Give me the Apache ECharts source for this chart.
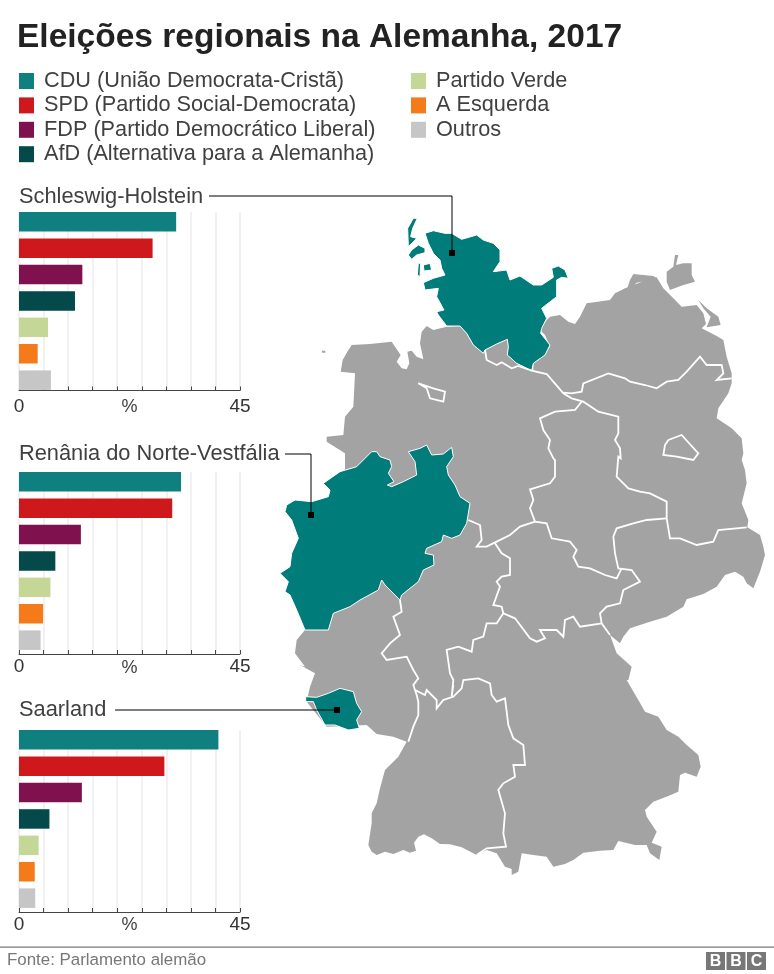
<!DOCTYPE html>
<html><head><meta charset="utf-8">
<style>html,body{margin:0;padding:0;background:#fff}#c{width:774px;height:974px}</style>
<script src="https://cdn.jsdelivr.net/npm/echarts@6/dist/echarts.min.js"></script>
</head><body><div id="c"></div>
<script>
const titleText = 'Eleições regionais na Alemanha, 2017';
const sourceText = 'Fonte: Parlamento alemão';
const parties = ['CDU (União Democrata-Cristã)','SPD (Partido Social-Democrata)','FDP (Partido Democrático Liberal)','AfD (Alternativa para a Alemanha)','Partido Verde','A Esquerda','Outros'];
const partyColors = ['#0f7f7f','#cf181b','#7f114f','#054a4a','#c5d797','#f47a1a','#c6c6c6'];
const states = ['Schleswig-Holstein','Renânia do Norte-Vestfália','Saarland'];
const valuesSH = [32.0,27.2,12.9,11.4,5.9,3.8,6.5];
const valuesNRW = [33.0,31.2,12.6,7.4,6.4,4.9,4.4];
const valuesSaar = [40.6,29.6,12.8,6.2,4.0,3.2,3.3];
const axisTicks = [0,5,10,15,20,25,30,35,40,45];

// Traced outlines: [crop, x,y, x,y, ...] in 3x units of three crops of the map
const germanyOutline = [
 [1, 212,515,218,480,232,455,245,435,300,432,365,425,375,440,392,465,380,485,395,505,410,508,418,490,412,455,425,452,440,470,460,478,450,430,455,395,470,378,490,390,530,380,570,378,590,400,610,435,640,460,645,450,680,432,712,415,715,440,712,465,740,490,780,510,790,512,790,490,815,470,840,440,825,405,810,390,825,365,840,350,870,345,895,365,915,372,930,350,950,310,1020,300,1035,280,1065,265,1130,240,1160,232,1180,265,1210,295,1235,320,1280,315,1300,340,1308,372,1295,385,1340,408,1360,420,1370,470,1385,520,1385,550,1375,580,1345,625,1340,655,1385,685,1415,715,1420,760],
 [2, 1415,60,1425,90,1430,130,1415,190,1435,240,1432,262,1470,285,1480,320,1485,345,1470,395,1450,445,1430,430,1420,410,1395,395,1365,405,1340,440,1300,462,1250,478,1240,500,1190,530,1140,545,1080,565,1060,590,1050,610,1020,585,1040,640,1085,680,1075,720],
 [3, 1070,60,1105,120,1125,155,1165,170,1190,210,1225,230,1250,255,1285,285,1292,320,1280,350,1245,338,1230,345,1225,395,1195,408,1150,425,1125,450,1130,470,1160,515,1145,548,1175,560,1168,600,1140,580,1130,555,1095,555,1045,543,1030,570,990,572,940,578,910,600,885,612,850,620,830,590,790,585,755,580,745,635,725,645,725,627,705,620,680,580,650,570,635,577,620,585,575,562,540,553,510,552,485,535,462,523,445,530,432,548,438,572,420,578,400,570,370,582,345,575,320,585,305,575,295,555,305,490,305,460,320,430,330,385,345,330,385,290,410,245,370,230,320,222,290,195,170,200,110,125,120,80,135,40,90,15],
 [2, 105,680,75,640,80,600,105,570,225,85,225,40,170,5],
 [1, 170,710,220,705,225,650,250,620,255,520]
];
const ruegen = [[1, 1190,215,1210,200,1215,165,1225,165,1218,195,1240,190,1265,190,1265,225,1275,245,1240,255,1200,270,1190,245]];
const darss = [[1, 1080,240,1090,222,1150,228,1165,238,1130,242,1100,248,1085,262,1072,265]];
const usedom = [[1, 1285,300,1310,325,1345,350,1352,375,1310,382,1322,350,1300,325]];
const borkum = [[1, 156,452,166,452,166,458,156,458]];

const schleswigOutline = [[1, 465,100,490,92,525,100,545,100,575,118,620,105,640,120,670,130,690,150,690,185,670,215,710,210,720,240,750,228,790,255,815,255,850,232,845,205,865,198,885,210,895,235,875,232,860,240,860,290,815,325,830,355,815,385,812,400,840,435,825,465,790,490,785,512,740,490,712,465,715,440,712,418,680,432,645,450,640,460,610,435,590,400,570,378,530,378,505,345,500,335,522,330,500,290,505,265,465,270,460,248,490,235,525,225,515,205,510,180,490,160,475,130]];
const sylt = [[1, 430,55,442,55,428,85,422,110,440,115,415,140,413,85]];
const foehr = [[1, 425,150,445,135,465,145,465,158,440,165,425,178,415,165]];
const pellworm = [[1, 460,195,480,190,485,210,462,213]];
const halligen = [[1, 445,190,452,190,450,230,442,225]];
const nrwOutline = [[2, 305,35,320,35,330,50,360,60,365,80,355,100,372,125,352,135,365,140,400,125,440,105,435,65,415,35,450,25,470,15,485,45,520,42,545,22,550,50,530,80,535,105,555,135,570,170,600,190,590,250,570,285,545,295,520,285,515,305,470,325,465,340,490,345,492,375,460,390,445,425,395,465,390,480,345,435,335,420,325,450,270,480,240,500,190,520,175,570,105,570,80,510,60,465,45,455,55,425,30,400,60,380,65,340,85,295,65,240,45,215,50,195,75,180,125,185,175,170,180,150,160,130,210,95,260,80]];
const saarOutline = [[3, 107,110,140,112,175,100,210,85,250,95,260,130,275,155,260,180,268,205,235,210,195,195,165,195,140,150,130,125,107,125]];

const stateBorders = [
 [[1, 645,450,650,480,680,495,695,487,725,505,745,498,785,512,830,522,850,545,880,580,905,595,940,605,985,635,1045,650,1045,700,1035,720,1050,745,1052,775],[2, 1045,50,1040,110,1075,145,1110,155,1140,160,1190,185,1190,235,1200,295,1230,295,1280,315,1330,305,1345,270,1430,262]],
 [[1, 880,578,905,580,935,575,940,550,1015,520,1065,535,1080,545,1125,555,1160,565,1190,545,1225,540,1250,515,1290,470,1310,495,1355,495,1360,520,1340,540,1385,535]],
 [[1, 935,605,915,630,855,635,810,655,820,690,840,720,835,745,850,775],[2, 855,60,855,110,840,130,780,148,790,180,780,205,795,245,830,250,845,295,900,305,920,330,910,350,925,380,960,385,1005,405,1040,415,1055,385]],
 [[2, 1190,235,1130,240,1090,250,1040,265,1030,290,1035,340,1045,385,1085,390,1110,425,1060,450,1050,490,1010,500,990,520,995,550,1020,585]],
 [[2, 795,245,750,260,720,285,680,305,650,320,620,320,635,300,630,255,595,240]],
 [[2, 675,310,695,340,720,355,720,405,695,410,680,425,690,440,670,495,695,500,700,520,735,535,780,595,800,605,825,595,810,570,860,570,880,590,885,540,910,530,930,560,995,550]],
 [[2, 700,520,680,550,650,550,640,590,610,600,605,635,565,620,530,630,540,700,550,720,545,770],[3, 550,75,545,105]],
 [[2, 390,480,395,515,370,530,390,585,360,610,335,640,350,660,410,650,430,690,445,715,430,735,440,765],[3, 445,125,445,165,430,200,415,245]],
 [[3, 435,90,465,105,470,90,500,120,500,145,520,120,550,110,575,85,580,60,625,55,660,70,665,105,680,125,705,115,715,195,730,235,760,255,765,315,730,315,735,350,700,370,685,390,705,460,700,520,708,560,650,565,620,585]],
 [[1, 445,550,470,565,480,595,520,605,525,575,490,565,445,550]],
 [[2, 1195,0,1235,-15,1262,15,1285,40,1270,60,1220,50,1180,45,1185,15,1195,0]]
];

const leaderLines = [
 [[209,196],[452,196],[452,253]],
 [[285,454],[311,454],[311,515]],
 [[115,710],[337,710]]
];
const leaderEnds = [[452,253],[311,515],[337,710]];

// crop origin in 3x units -> page pixels
const cropOrigin = {1:[810,600],2:[810,1320],3:[810,1980]};
function traced(segments){
  const pts=[];
  segments.forEach(seg=>{
    const o=cropOrigin[seg[0]];
    for(let i=1;i<seg.length;i+=2) pts.push([(seg[i]+o[0])/3,(seg[i+1]+o[1])/3]);
  });
  return pts;
}
function ring(segments){const p=traced(segments);p.push(p[0].slice());return p;}
function feature(name,list){
  return {type:'Feature',properties:{name},geometry:{type:'MultiPolygon',coordinates:list.map(s=>[ring(s)])}};
}
echarts.registerMap('de',{type:'FeatureCollection',features:[
  feature('Alemanha',[germanyOutline,ruegen,darss,usedom,borkum]),
  feature(states[0],[schleswigOutline,sylt,foehr,pellworm,halligen]),
  feature(states[1],[nrwOutline]),
  feature(states[2],[saarOutline])
]});

const font='"Liberation Sans",Arial,sans-serif';
const panels=[
 {values:valuesSH,top:212,bottom:390.5,label:186,lab:7.5},
 {values:valuesNRW,top:472,bottom:654,label:443,lab:4.7},
 {values:valuesSaar,top:730,bottom:912,label:699,lab:4}
];
const pitch=26.4, barH=19.5, gridL=19, gridW=221;
const grid=[],xAxis=[],yAxis=[],series=[];
panels.forEach((p,i)=>{
  // axis frame
  grid.push({left:gridL,width:gridW,top:p.top,height:p.bottom-p.top,containLabel:false});
  xAxis.push({type:'value',gridIndex:2*i,min:0,max:45,interval:5,
    name:'%',nameLocation:'middle',nameGap:p.lab,nameMoveOverlap:false,
    nameTextStyle:{fontFamily:font,fontSize:18,color:'#404040',verticalAlign:'top'},
    axisLine:{show:true,lineStyle:{color:'#444',width:1}},
    axisTick:{show:true,inside:true,length:4,lineStyle:{color:'#444',width:1}},
    axisLabel:{show:true,margin:p.lab-1,fontFamily:font,fontSize:19,color:'#333',verticalAlign:'top',
      showMinLabel:true,showMaxLabel:true,hideOverlap:false,
      formatter:v=>(v===axisTicks[0]||v===axisTicks[axisTicks.length-1])?String(v):''},
    splitLine:{show:true,lineStyle:{color:'#ececec',width:1.5}}});
  yAxis.push({type:'category',gridIndex:2*i,data:parties,inverse:true,show:false});
  // bar grid
  const top=p.top-(pitch-barH)/2;
  grid.push({left:gridL,width:gridW,top:top,height:pitch*7});
  xAxis.push({type:'value',gridIndex:2*i+1,min:0,max:45,show:false});
  yAxis.push({type:'category',gridIndex:2*i+1,data:parties,inverse:true,show:false});
  parties.forEach((party,k)=>{
    series.push({type:'bar',name:party,xAxisIndex:2*i+1,yAxisIndex:2*i+1,stack:'s'+i,barWidth:barH,
      itemStyle:{color:partyColors[k]},silent:true,z:5,
      data:parties.map((_,m)=>m===k?p.values[k]:null)});
  });
});
series.push({type:'lines',coordinateSystem:'geo',polyline:true,silent:true,z:3,
  lineStyle:{color:'#fff',width:1.8,opacity:1},
  data:stateBorders.map(b=>({coords:traced(b)}))});
series.push({type:'lines',coordinateSystem:'geo',polyline:true,silent:true,z:6,
  lineStyle:{color:'#000',width:1,opacity:1},
  data:leaderLines.map(c=>({coords:c}))});
series.push({type:'scatter',coordinateSystem:'geo',silent:true,z:7,symbol:'rect',symbolSize:6,
  itemStyle:{color:'#000',opacity:1},data:leaderEnds});

const stateStyle={fontFamily:font,fontSize:21.8,fontWeight:'normal',color:'#404040'};
const chart=echarts.init(document.getElementById('c'),null,{renderer:'canvas'});
const legendText={fontFamily:font,fontSize:21.7,color:'#404040',padding:[2,0,0,5]};
chart.setOption({
  animation:false,backgroundColor:'#fff',
  title:[
    {text:titleText,left:17,top:21,padding:0,textStyle:{fontFamily:font,fontSize:33.5,fontWeight:'bold',color:'#222'}},
    ...panels.map((p,i)=>({text:states[i],left:19,top:p.label,padding:0,textStyle:stateStyle})),
    {text:sourceText,left:7,top:952,padding:0,textStyle:{fontFamily:font,fontSize:16.9,fontWeight:'normal',color:'#777'}}
  ],
  legend:[
    {data:parties.slice(0,4),left:19,top:70,orient:'vertical',itemWidth:15,itemHeight:16,itemGap:2.4,padding:0,selectedMode:false,icon:'rect',textStyle:legendText},
    {data:parties.slice(4),left:411,top:70,orient:'vertical',itemWidth:15,itemHeight:16,itemGap:2.4,padding:0,selectedMode:false,icon:'rect',textStyle:legendText}
  ],
  geo:{map:'de',left:0,top:0,width:774,height:974,silent:true,roam:false,z:2,
    projection:{project:p=>p,unproject:p=>p},
    boundingCoords:[[0,0],[774,974]],
    itemStyle:{areaColor:'#a3a3a3',borderWidth:0,borderColor:'#a3a3a3'},
    label:{show:false},emphasis:{disabled:true},
    regions:states.map(n=>({name:n,itemStyle:{areaColor:'#007c7a',borderColor:'#fff',borderWidth:1}}))},
  grid,xAxis,yAxis,series,
  graphic:[
    {type:'rect',silent:true,shape:{x:0,y:946.5,width:774,height:1.2},style:{fill:'#777'}},
    ...['B','B','C'].map((t,i)=>({type:'group',silent:true,x:706+20.5*i,y:952,children:[
      {type:'rect',shape:{x:0,y:0,width:19,height:18},style:{fill:'#777'}},
      {type:'text',x:9.5,y:9.5,style:{text:t,fontFamily:font,fontSize:16,fontWeight:'bold',fill:'#fff',align:'center',verticalAlign:'middle'}}
    ]}))
  ]
});
</script></body></html>
